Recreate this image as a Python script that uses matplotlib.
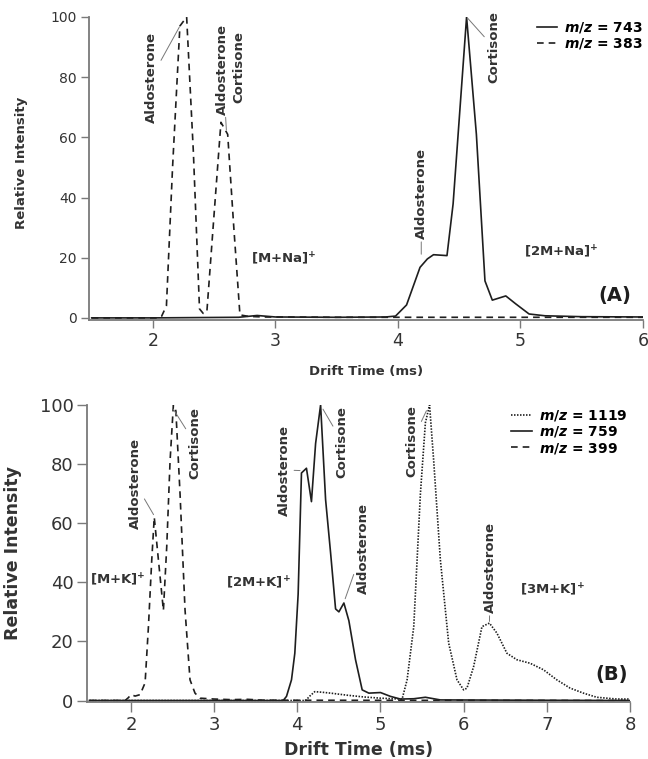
import matplotlib
matplotlib.use("Agg")
import matplotlib.pyplot as plt

plt.rcParams['font.family'] = ['DejaVu Sans']
plt.rcParams['mathtext.fontset'] = 'custom'
plt.rcParams['mathtext.it'] = 'DejaVu Sans:italic:bold'
plt.rcParams['mathtext.rm'] = 'DejaVu Sans:bold'
plt.rcParams['mathtext.bf'] = 'DejaVu Sans:bold'

# ---------------- data: panel A ----------------
a743_x = [1.5, 2.0, 2.7, 2.85, 3.0, 3.5, 3.9, 3.98, 4.07, 4.18, 4.24, 4.29, 4.40,
          4.45, 4.56, 4.64, 4.71, 4.77, 4.88, 4.96, 5.07, 5.2, 5.5, 6.0]
a743_y = [0, 0, 0.2, 0.8, 0.3, 0.2, 0.3, 0.6, 4.3, 16.8, 19.6, 21, 20.7,
          37.9, 100, 61, 12.3, 5.9, 7.3, 4.7, 1.3, 0.7, 0.4, 0.3]

a383_x = [1.5, 2.05, 2.07, 2.11, 2.16, 2.22, 2.275, 2.33, 2.38, 2.41, 2.44, 2.50,
          2.555, 2.61, 2.66, 2.71, 2.78, 2.9, 3.5, 6.0]
a383_y = [0, 0, 0.5, 4, 50, 97, 100, 55, 3, 1.5, 2, 35,
          65, 61, 30, 1, 0.5, 0.3, 0.2, 0.2]

# ---------------- data: panel B ----------------
b399_x = [1.5, 1.93, 1.97, 2.0, 2.05, 2.11, 2.17, 2.21, 2.25, 2.28, 2.33, 2.39,
          2.43, 2.47, 2.51, 2.54, 2.59, 2.65, 2.71, 2.77, 2.83, 3.0, 3.2, 3.4, 3.6, 8.0]
b399_y = [0, 0, 1.0, 2.0, 1.5, 2.0, 6, 25, 47.6, 62, 47.6, 30.5,
          52, 81, 100, 98, 70, 30.7, 7, 2.5, 0.8, 0.5, 0.3, 0.4, 0.1, 0]

b759_x = [1.5, 3.83, 3.87, 3.93, 3.97, 4.01, 4.05, 4.11, 4.17, 4.22, 4.28, 4.34,
          4.40, 4.46, 4.50, 4.56, 4.62, 4.70, 4.78, 4.86, 5.0, 5.12, 5.24, 5.40,
          5.54, 5.72, 8.0]
b759_y = [0, 0, 1.4, 7, 16, 36, 77, 78.6, 67.3, 87, 100, 68,
          50, 31, 30, 33, 27, 13.8, 3.6, 2.5, 2.7, 1.4, 0.5, 0.6,
          1.1, 0.2, 0]

b1119_x = [1.5, 4.1, 4.15, 4.21, 4.3, 4.4, 4.6, 4.8, 5.0, 5.15, 5.26, 5.32, 5.40,
           5.48, 5.54, 5.59, 5.64, 5.72, 5.82, 5.92, 6.0, 6.04, 6.12, 6.22, 6.31,
           6.40, 6.52, 6.64, 6.80, 6.96, 7.12, 7.28, 7.44, 7.60, 7.84, 8.0]
b1119_y = [0, 0, 1.5, 3, 2.8, 2.5, 1.8, 1.2, 0.8, 0.6, 0.5, 7, 25,
           70, 94, 100, 81, 47.6, 19.4, 7, 3.6, 4.2, 11.5, 25, 26.2,
           22.8, 16, 13.8, 12.6, 10.4, 7, 4.2, 2.5, 1.1, 0.5, 0.5]

a_xticks = [2, 3, 4, 5, 6]
b_xticks = [2, 3, 4, 5, 6, 7, 8]
yticks = [0, 20, 40, 60, 80, 100]

# annotations: (text, text_x, text_y, peak_x, peak_y or None)
a_labels = [
    ("Aldosterone", 1.99, 80, 2.22, 97),
    ("Aldosterone", 2.57, 82.7, 2.60, 62),
    ("Cortisone", 2.70, 83.5, None, None),
    ("Cortisone", 4.78, 90, 4.56, 100),
    ("Aldosterone", 4.19, 41.3, 4.19, 20.7),
]
a_ions = [("[M+Na]$^{+}$", 3.07, 19.6), ("[2M+Na]$^{+}$", 5.33, 22)]

b_labels = [
    ("Aldosterone", 2.05, 73.6, 2.28, 62.5),
    ("Cortisone", 2.77, 87, 2.50, 99),
    ("Aldosterone", 3.85, 78, 4.05, 77.8),
    ("Cortisone", 4.54, 87.5, 4.30, 99),
    ("Aldosterone", 4.79, 51.6, 4.57, 34),
    ("Cortisone", 5.38, 87.8, 5.56, 98.5),
    ("Aldosterone", 6.32, 45, 6.31, 26.3),
]
b_ions = [("[M+K]$^{+}$", 1.84, 41), ("[2M+K]$^{+}$", 3.53, 40), ("[3M+K]$^{+}$", 7.07, 37.5)]

LC = '#1e1e1e'
SP = '#7a7a7a'
TC = '#333333'
dash = (0, (4.0, 3.0))
dot = (0, (0.9, 0.9))

fig = plt.figure(figsize=(6.48, 7.59), dpi=100)
axA = fig.add_axes([89 / 648, 1 - 320 / 759, (643 - 89) / 648, 303 / 759])
axB = fig.add_axes([87.3 / 648, 1 - 702 / 759, (630 - 87.3) / 648, 297 / 759])

def style(ax, xlim, ylim, xticks, xsz, ysz, tlen):
    ax.set_xlim(*xlim)
    ax.set_ylim(*ylim)
    ax.set_xticks(xticks)
    ax.set_yticks(yticks)
    for s in ['top', 'right']:
        ax.spines[s].set_visible(False)
    for s in ['left', 'bottom']:
        ax.spines[s].set_color(SP)
        ax.spines[s].set_linewidth(1.3)
    ax.spines['left'].set_bounds(ylim[0], 100)
    ax.tick_params(axis='both', direction='out', length=tlen, width=1.0, color=SP,
                   labelcolor=TC)
    ax.tick_params(axis='x', labelsize=xsz, pad=3)
    ax.tick_params(axis='y', labelsize=ysz, pad=3)

# ---- panel A ----
style(axA, (1.478, 6.0), (-0.7, 100), a_xticks, 12.5, 10, 6)
lA1, = axA.plot(a743_x, a743_y, color=LC, lw=1.2, label=r'$m/z$ = 743')
lA2, = axA.plot(a383_x, a383_y, color=LC, lw=1.2, linestyle=dash, label=r'$m/z$ = 383')
axA.set_xlabel('Drift Time (ms)', fontsize=9.5, fontweight='bold', color=TC)
axA.set_ylabel('Relative Intensity', fontsize=9.5, fontweight='bold', color=TC)
axA.xaxis.set_label_coords(0.5, -0.148)
axA.yaxis.set_label_coords(-0.11, 0.52)
legA = axA.legend(handles=[lA1, lA2], loc='upper right', bbox_to_anchor=(1.0, 0.99),
                  frameon=False, prop={'weight': 'bold', 'size': 10}, handlelength=1.5,
                  handletextpad=0.5, labelspacing=0.1, borderpad=0, borderaxespad=0)

for txt, tx, ty, px, py in a_labels:
    if px is None:
        axA.text(tx, ty, txt, rotation=90, ha='center', va='center', fontsize=9.5,
                 fontweight='bold', color=TC)
    else:
        axA.annotate(txt, xy=(px, py), xytext=(tx, ty), rotation=90, ha='center',
                     va='center', fontsize=9.5, fontweight='bold', color=TC,
                     arrowprops=dict(arrowstyle='-', color='#777777', lw=0.7,
                                     shrinkA=0, shrinkB=1))
for txt, tx, ty in a_ions:
    axA.text(tx, ty, txt, ha='center', va='center', fontsize=9.5, fontweight='bold', color=TC)
axA.text(5.77, 7.3, '(A)', ha='center', va='center', fontsize=14, fontweight='bold', color=LC)

# ---- panel B ----
style(axB, (1.475, 8.0), (-0.5, 100), b_xticks, 13, 13, 7)
lB1, = axB.plot(b1119_x, b1119_y, color=LC, lw=1.2, linestyle=dot, label=r'$m/z$ = 1119')
lB2, = axB.plot(b759_x, b759_y, color=LC, lw=1.2, label=r'$m/z$ = 759')
lB3, = axB.plot(b399_x, b399_y, color=LC, lw=1.2, linestyle=dash, label=r'$m/z$ = 399')
axB.set_xlabel('Drift Time (ms)', fontsize=12.5, fontweight='bold', color=TC)
axB.set_ylabel('Relative Intensity', fontsize=12.5, fontweight='bold', color=TC)
axB.xaxis.set_label_coords(0.5, -0.13)
axB.yaxis.set_label_coords(-0.12, 0.50)
legB = axB.legend(handles=[lB1, lB2, lB3], loc='upper right', bbox_to_anchor=(0.995, 0.99),
                  frameon=False, prop={'weight': 'bold', 'size': 10}, handlelength=1.5,
                  handletextpad=0.5, labelspacing=0.1, borderpad=0, borderaxespad=0)

for txt, tx, ty, px, py in b_labels:
    axB.annotate(txt, xy=(px, py), xytext=(tx, ty), rotation=90, ha='center',
                 va='center', fontsize=9.5, fontweight='bold', color=TC,
                 arrowprops=dict(arrowstyle='-', color='#777777', lw=0.7,
                                 shrinkA=0, shrinkB=1))
for txt, tx, ty in b_ions:
    axB.text(tx, ty, txt, ha='center', va='center', fontsize=9.5, fontweight='bold', color=TC)
axB.text(7.78, 8.7, '(B)', ha='center', va='center', fontsize=14, fontweight='bold', color=LC)

fig.savefig('out.png', dpi=100)
